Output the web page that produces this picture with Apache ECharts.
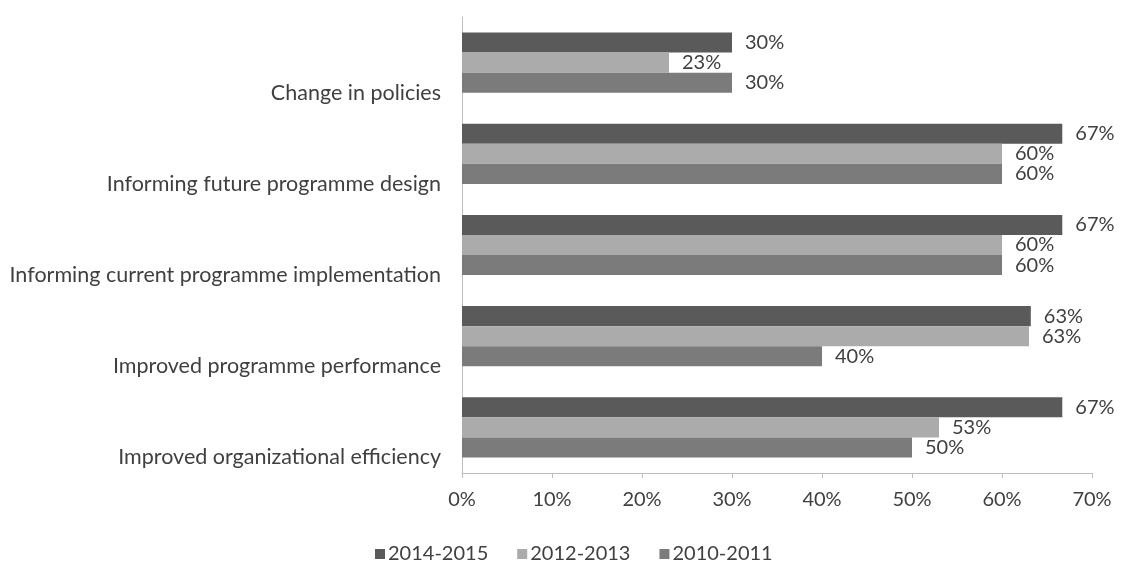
<!DOCTYPE html>
<html>
<head>
<meta charset="utf-8">
<script src="https://cdn.jsdelivr.net/npm/echarts@6/dist/echarts.min.js"></script>
<style>html,body{margin:0;padding:0;background:#fff;}#c{width:1121px;height:561px;}</style>
</head>
<body>
<div id="c"></div>
<script>
var categories = ["Change in policies", "Informing future programme design", "Informing current programme implementation", "Improved programme performance", "Improved organizational efficiency"];
var seriesNames = ["2014-2015", "2012-2013", "2010-2011"];
var s2014 = [30, 66.7, 66.7, 63.2, 66.7];
var s2012 = [23, 60, 60, 63, 53];
var s2010 = [30, 60, 60, 40, 50];
var xTicks = [0, 10, 20, 30, 40, 50, 60, 70];
var colors = ["#5a5a5a", "#ababab", "#7b7b7b"];

var FONT = "Lato";
var TXT = "#404040";
var chart = echarts.init(document.getElementById('c'));
function mk(name, data, color) {
  return {
    name: name, type: 'bar', data: data, barGap: '0%', barCategoryGap: '34%',
    itemStyle: {color: color},
    label: {show: true, position: 'right', distance: 13, color: TXT, fontFamily: FONT, fontSize: 20,
      formatter: function (p) { return Math.round(p.value) + '%'; }}
  };
}
chart.setOption({
  animation: false,
  grid: {left: 462, right: 29, top: 17, bottom: 88, containLabel: false},
  legend: {
    data: seriesNames, left: 370, top: 539, itemWidth: 10, itemHeight: 10, itemGap: 29,
    icon: 'rect',
    textStyle: {color: TXT, fontFamily: FONT, fontSize: 20, padding: [0, 0, 0, -2]}
  },
  xAxis: {
    type: 'value', min: xTicks[0], max: xTicks[xTicks.length - 1], interval: 10,
    axisLine: {show: true, lineStyle: {color: '#bfbfbf'}},
    axisTick: {show: true, length: 5, lineStyle: {color: '#bfbfbf'}},
    splitLine: {show: false},
    axisLabel: {formatter: '{value}%', margin: 17, color: TXT, fontFamily: FONT, fontSize: 20}
  },
  yAxis: {
    type: 'category', data: categories, inverse: true,
    axisLine: {show: true, lineStyle: {color: '#bfbfbf'}},
    axisTick: {show: false},
    axisLabel: {interval: 0, margin: 21, color: TXT, fontFamily: FONT, fontSize: 21.5, lineHeight: 60,
      formatter: function (v) { return '\n' + v; }}
  },
  series: [mk(seriesNames[0], s2014, colors[0]), mk(seriesNames[1], s2012, colors[1]), mk(seriesNames[2], s2010, colors[2])]
});
</script>
</body>
</html>
